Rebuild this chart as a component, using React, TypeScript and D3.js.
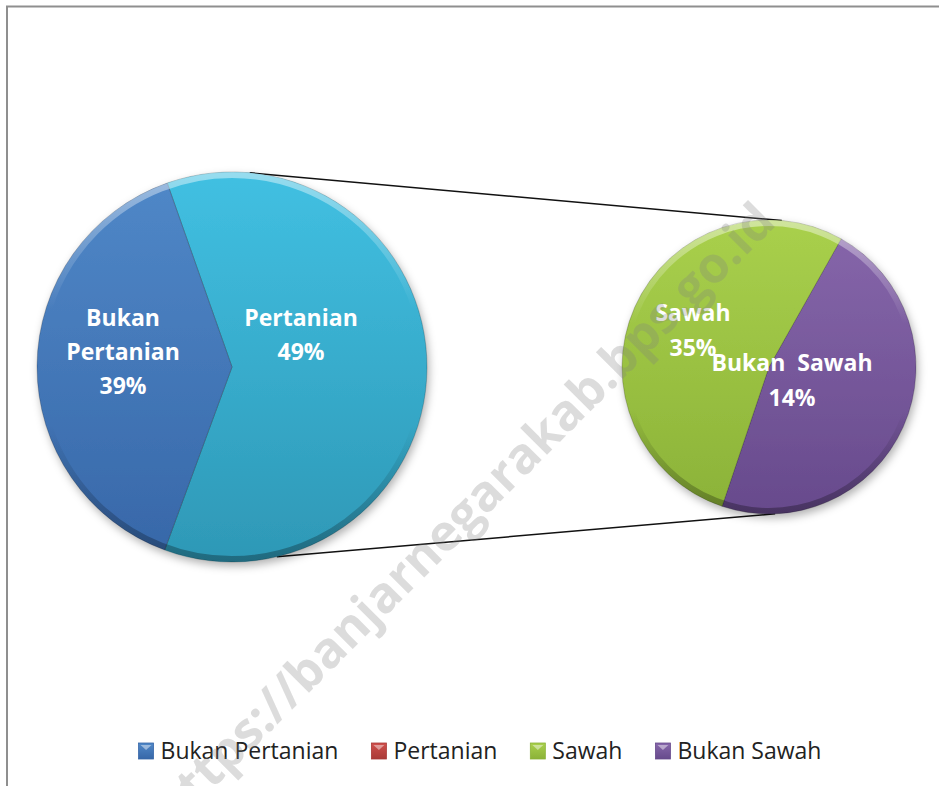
import React, { useEffect, useRef } from "react";
import * as d3 from "d3";

const W = 939;
const H = 786;

// main pie: combined "Pertanian" slice + Bukan Pertanian (shares)
const MAIN_KEYS = ["Pertanian", "Bukan Pertanian"];
const MAIN_SHARE = [61, 39];
const MAIN_LABELS = [["Pertanian", "49%"], ["Bukan", "Pertanian", "39%"]];

// secondary pie: breakdown of Pertanian
const SUB_KEYS = ["Bukan Sawah", "Sawah"];
const SUB_SHARE = [47, 53];
const SUB_LABELS = [["Bukan  Sawah", "14%"], ["Sawah", "35%"]];

const LEGEND_KEYS = ["Bukan Pertanian", "Pertanian", "Sawah", "Bukan Sawah"];

const COLORS: Record<string, [string, string]> = {
  "Bukan Pertanian": ["#5088c8", "#3767a8"],
  Pertanian: ["#d0504c", "#a93a37"],
  Sawah: ["#a9d04c", "#8bb238"],
  "Bukan Sawah": ["#8767ab", "#674a8c"],
};
const OTHER_COLOR: [string, string] = ["#41c0e2", "#2e98b6"];

// layout
const MAIN = { cx: 232, cy: 367, r: 195, start: -19.4 };
const SUB = { cx: 769, cy: 367, r: 147, start: 29.4 };
const CONNECT = [
  { main: 5.2, sub: 5.0 },
  { main: 166.7, sub: 177.6 },
];
const MAIN_LABEL_POS = [
  { dx: 69, dy: -32 },
  { dx: -109, dy: -15 },
];
const SUB_LABEL_POS = [
  { dx: 23, dy: 13 },
  { dx: -76, dy: -37 },
];

const rad = (d: number) => (d * Math.PI) / 180;
const onCircle = (c: { cx: number; cy: number; r: number }, a: number) => [
  c.cx + c.r * Math.sin(rad(a)),
  c.cy - c.r * Math.cos(rad(a)),
];

export default function App() {
  const svgRef = useRef<SVGSVGElement>(null);

  useEffect(() => {
    const svg = d3.select(svgRef.current);
    svg.selectAll("*").remove();
    const defs = svg.append("defs");

    // ── shadow + rim ─────────────────────────────
    const f = defs
      .append("filter")
      .attr("id", "shadow")
      .attr("x", "-20%")
      .attr("y", "-20%")
      .attr("width", "140%")
      .attr("height", "140%");
    f.append("feDropShadow")
      .attr("dx", 2)
      .attr("dy", 4)
      .attr("stdDeviation", 4)
      .attr("flood-color", "#000")
      .attr("flood-opacity", 0.3);

    const rim = defs
      .append("linearGradient")
      .attr("id", "rim")
      .attr("x1", 0)
      .attr("y1", 0)
      .attr("x2", 0)
      .attr("y2", 1);
    rim.append("stop").attr("offset", "0%").attr("stop-color", "#fff").attr("stop-opacity", 0.45);
    rim.append("stop").attr("offset", "35%").attr("stop-color", "#fff").attr("stop-opacity", 0);
    rim.append("stop").attr("offset", "65%").attr("stop-color", "#000").attr("stop-opacity", 0);
    rim.append("stop").attr("offset", "100%").attr("stop-color", "#000").attr("stop-opacity", 0.3);

    const grad = (id: string, c: [string, string], r: number) => {
      const g = defs
        .append("linearGradient")
        .attr("id", id)
        .attr("gradientUnits", "userSpaceOnUse")
        .attr("x1", 0)
        .attr("y1", -r)
        .attr("x2", 0)
        .attr("y2", r);
      g.append("stop").attr("offset", "0%").attr("stop-color", c[0]);
      g.append("stop").attr("offset", "100%").attr("stop-color", c[1]);
    };

    // ── border ───────────────────────────────────
    svg
      .append("path")
      .attr("d", `M7,${H} L7,6.5 L${W},6.5`)
      .attr("fill", "none")
      .attr("stroke", "#8f8f8f")
      .attr("stroke-width", 2);

    // ── connector lines ──────────────────────────
    CONNECT.forEach((c) => {
      const [x1, y1] = onCircle(MAIN, c.main);
      const [x2, y2] = onCircle(SUB, c.sub);
      svg
        .append("line")
        .attr("x1", x1)
        .attr("y1", y1)
        .attr("x2", x2)
        .attr("y2", y2)
        .attr("stroke", "#111")
        .attr("stroke-width", 1.5);
    });

    // ── pies ─────────────────────────────────────
    const drawPie = (
      name: string,
      geo: typeof MAIN,
      keys: string[],
      shares: number[],
      colors: [string, string][],
      labels: string[][],
      labelPos: { dx: number; dy: number }[],
      lineH: number
    ) => {
      const pie = d3
        .pie<number>()
        .sort(null)
        .startAngle(rad(geo.start))
        .endAngle(rad(geo.start) + Math.PI * 2);
      const arc = d3.arc<d3.PieArcDatum<number>>().innerRadius(0).outerRadius(geo.r);
      const arcs = pie(shares);

      colors.forEach((c, i) => grad(`${name}-g${i}`, c, geo.r));

      const g = svg.append("g").attr("transform", `translate(${geo.cx},${geo.cy})`);
      const body = g.append("g").attr("filter", "url(#shadow)");
      body
        .selectAll("path.slice")
        .data(arcs)
        .join("path")
        .attr("class", "slice")
        .attr("d", arc)
        .attr("fill", (_d, i) => `url(#${name}-g${i})`)
        .attr("stroke", "rgba(0,0,0,0.2)")
        .attr("stroke-width", 1)
        .attr("data-key", (_d, i) => keys[i]);

      g.append("circle")
        .attr("r", geo.r - 3)
        .attr("fill", "none")
        .attr("stroke", "url(#rim)")
        .attr("stroke-width", 6);

      labels.forEach((lines, i) => {
        const t = g
          .append("text")
          .attr("text-anchor", "middle")
          .attr("font-family", "'Open Sans', sans-serif")
          .attr("font-weight", 700)
          .attr("font-size", 23)
          .attr("fill", "#fff");
        const y0 = labelPos[i].dy - ((lines.length - 1) * lineH) / 2;
        lines.forEach((ln, j) => {
          t.append("tspan")
            .attr("x", labelPos[i].dx)
            .attr("y", y0 + j * lineH)
            .attr("dy", "0.36em")
            .style("white-space", "pre")
            .text(ln);
        });
      });
    };

    drawPie("main", MAIN, MAIN_KEYS, MAIN_SHARE, [OTHER_COLOR, COLORS["Bukan Pertanian"]], MAIN_LABELS, MAIN_LABEL_POS, 34);
    drawPie("sub", SUB, SUB_KEYS, SUB_SHARE, SUB_KEYS.map((k) => COLORS[k]), SUB_LABELS, SUB_LABEL_POS, 35);

    // ── legend ───────────────────────────────────
    LEGEND_KEYS.forEach((k) => {
      const lg = defs
        .append("linearGradient")
        .attr("id", `lg-${k.replace(/\s/g, "")}`)
        .attr("x1", 0)
        .attr("y1", 0)
        .attr("x2", 0)
        .attr("y2", 1);
      lg.append("stop").attr("offset", "0%").attr("stop-color", COLORS[k][0]);
      lg.append("stop").attr("offset", "100%").attr("stop-color", COLORS[k][1]);
    });

    const legend = svg.append("g");
    const items = LEGEND_KEYS.map((k) => {
      const row = legend.append("g");
      row
        .append("rect")
        .attr("y", -8)
        .attr("width", 15)
        .attr("height", 16)
        .attr("fill", `url(#lg-${k.replace(/\s/g, "")})`)
        .attr("stroke", COLORS[k][1])
        .attr("stroke-width", 0.8);
      row
        .append("path")
        .attr("d", "M2,-6 L13,-6 L7.5,-1 Z")
        .attr("fill", "#fff")
        .attr("opacity", 0.45);
      const t = row
        .append("text")
        .attr("x", 22)
        .attr("dy", "0.36em")
        .attr("font-family", "'Open Sans', sans-serif")
        .attr("font-size", 23)
        .attr("fill", "#222")
        .text(k);
      const w = 22 + (t.node() as SVGTextElement).getComputedTextLength();
      return { row, w };
    });
    const gap = 33;
    const total = d3.sum(items, (d) => d.w) + gap * (items.length - 1);
    let x = 480 - total / 2;
    items.forEach((it) => {
      it.row.attr("transform", `translate(${x},751)`);
      x += it.w + gap;
    });

    // ── watermark ────────────────────────────────
    svg
      .append("text")
      .attr("transform", "translate(463,514) rotate(-45)")
      .attr("text-anchor", "middle")
      .attr("dy", "0.35em")
      .attr("font-family", "'Open Sans', sans-serif")
      .attr("font-weight", 700)
      .attr("font-size", 50)
      .attr("fill", "#808080")
      .attr("opacity", 0.27)
      .text("https://banjarnegarakab.bps.go.id");
  }, []);

  return (
    <svg
      ref={svgRef}
      width={W}
      height={H}
      style={{ position: "absolute", left: 0, top: 0, background: "#fff" }}
    />
  );
}
